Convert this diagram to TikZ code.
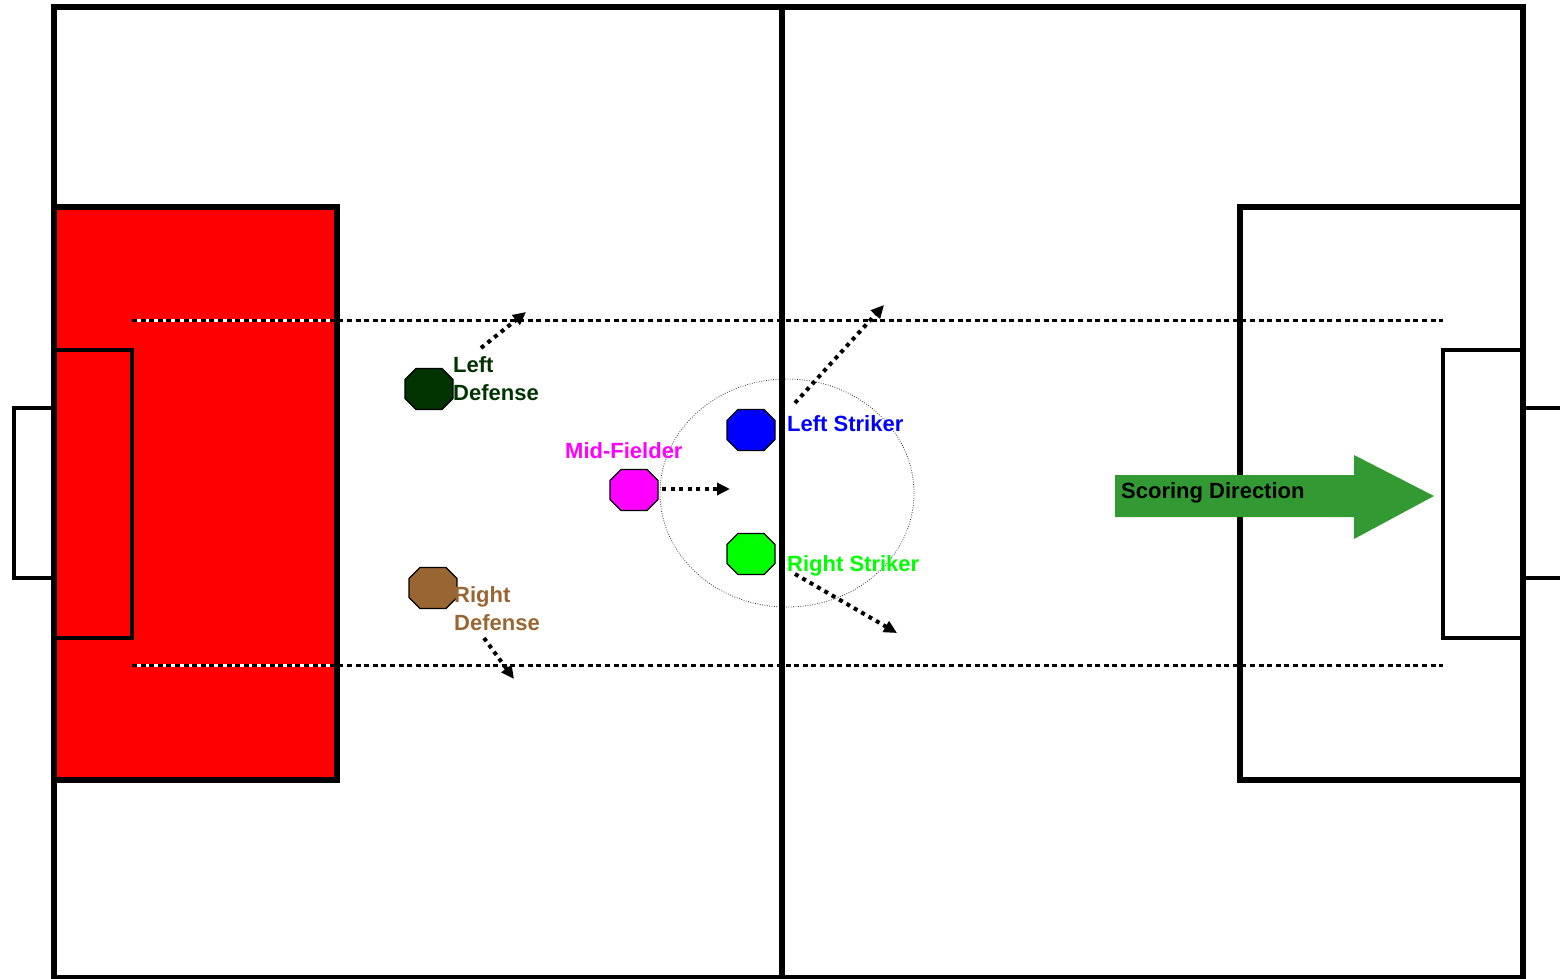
\documentclass[tikz,border=0pt]{standalone}
\usepackage{fontspec}
\setmainfont{Liberation Sans}
\usetikzlibrary{positioning,arrows.meta}
\definecolor{ldcol}{HTML}{003300}
\definecolor{rdcol}{HTML}{996633}
\definecolor{mfcol}{HTML}{FF00FF}
\definecolor{lscol}{HTML}{0000FF}
\definecolor{rscol}{HTML}{00FF00}
\definecolor{scorecol}{HTML}{339933}
\tikzset{
        % Field markings
        field_line/.style={draw=black, line width=6pt},
        box_line/.style={draw=black, line width=4.5pt},
        lane_line/.style={black, line width=3pt, dash pattern=on 5pt off 3.6pt},
        % Players
        pics/player/.style={code={
            \draw[line width=1.2pt, fill=#1] (-13,-20.5) -- (13,-20.5) -- (24,-9.5) -- (24,9.5)
                -- (13,20.5) -- (-13,20.5) -- (-24,9.5) -- (-24,-9.5) -- cycle;
        }},
        % Player names
        player_name/.style={font=\bfseries\fontsize{22}{28}\selectfont, inner sep=0pt, align=left},
        % Runs
        run/.style={line width=4pt, dash pattern=on 4pt off 4.5pt, -{Triangle[length=13pt,width=12pt]}}
}
\begin{document}
\begin{tikzpicture}[x=1pt, y=-1pt]
    \useasboundingbox (0,0) rectangle (1560,979);
    % Defended box
    \fill[red] (54,207) rectangle (337,780);
    % Lanes
    \draw[white, line width=3pt] (132,320) -- (1443,320) (132,665) -- (1443,665);
    \draw[lane_line] (132,320) -- (1443,320);
    \draw[lane_line] (132,665) -- (1443,665);
    % Centre circle
    \draw[black!80, line width=0.8pt, dash pattern=on 0.8pt off 1.6pt] (787,493) ellipse [x radius=127, y radius=114];
    % Field
    \draw[field_line] (54,7) rectangle (1523,978);
    \draw[field_line] (782,7) -- (782,978);
    \draw[field_line] (54,207) -- (337,207) -- (337,780) -- (54,780);
    \draw[field_line] (1523,207) -- (1240,207) -- (1240,780) -- (1523,780);
    \draw[box_line] (54,350) -- (132,350) -- (132,638) -- (54,638);
    \draw[box_line] (1523,350) -- (1443,350) -- (1443,638) -- (1523,638);
    \draw[box_line] (54,408) -- (14,408) -- (14,578) -- (54,578);
    \draw[box_line] (1523,408) -- (1570,408) (1523,578) -- (1570,578);
    % Players
    \pic (ld) at (429,389) {player=ldcol};
    \pic (rd) at (433,588) {player=rdcol};
    \pic (mf) at (634,490) {player=mfcol};
    \pic (ls) at (751,430) {player=lscol};
    \pic (rs) at (751,554) {player=rscol};
    \node[player_name, text=ldcol, anchor=north west] (ld_name) at (453,356) {Left\\Defense};
    \node[player_name, text=rdcol, anchor=north west] (rd_name) at (454,586) {Right\\Defense};
    \node[player_name, text=mfcol, anchor=base west] (mf_name) at (565,458) {Mid-Fielder};
    \node[player_name, text=lscol, anchor=base west] (ls_name) at (787,431) {Left Striker};
    \node[player_name, text=rscol, anchor=base west] (rs_name) at (787,571) {Right Striker};
    % Runs
    \coordinate (ld_from) at (481,348);  \coordinate (ld_to) at (526,312);
    \coordinate (mf_from) at (662,489);  \coordinate (mf_to) at (730,489);
    \coordinate (ls_from) at (795,403);  \coordinate (ls_to) at (884,305);
    \coordinate (rs_from) at (795,574);  \coordinate (rs_to) at (897,633);
    \coordinate (rd_from) at (484,638);  \coordinate (rd_to) at (514,679);
    \draw[run] (ld_from) -- (ld_to);
    \draw[run] (mf_from) -- (mf_to);
    \draw[run] (ls_from) -- (ls_to);
    \draw[run] (rs_from) -- (rs_to);
    \draw[run] (rd_from) -- (rd_to);
    % Scoring direction
    \fill[scorecol] (1115,475) -- (1354,475) -- (1354,455) -- (1434,496) -- (1354,539) -- (1354,517) -- (1115,517) -- cycle;
    \node[player_name, anchor=base west] (score) at (1121,498) {Scoring Direction};
\end{tikzpicture}
\end{document}
